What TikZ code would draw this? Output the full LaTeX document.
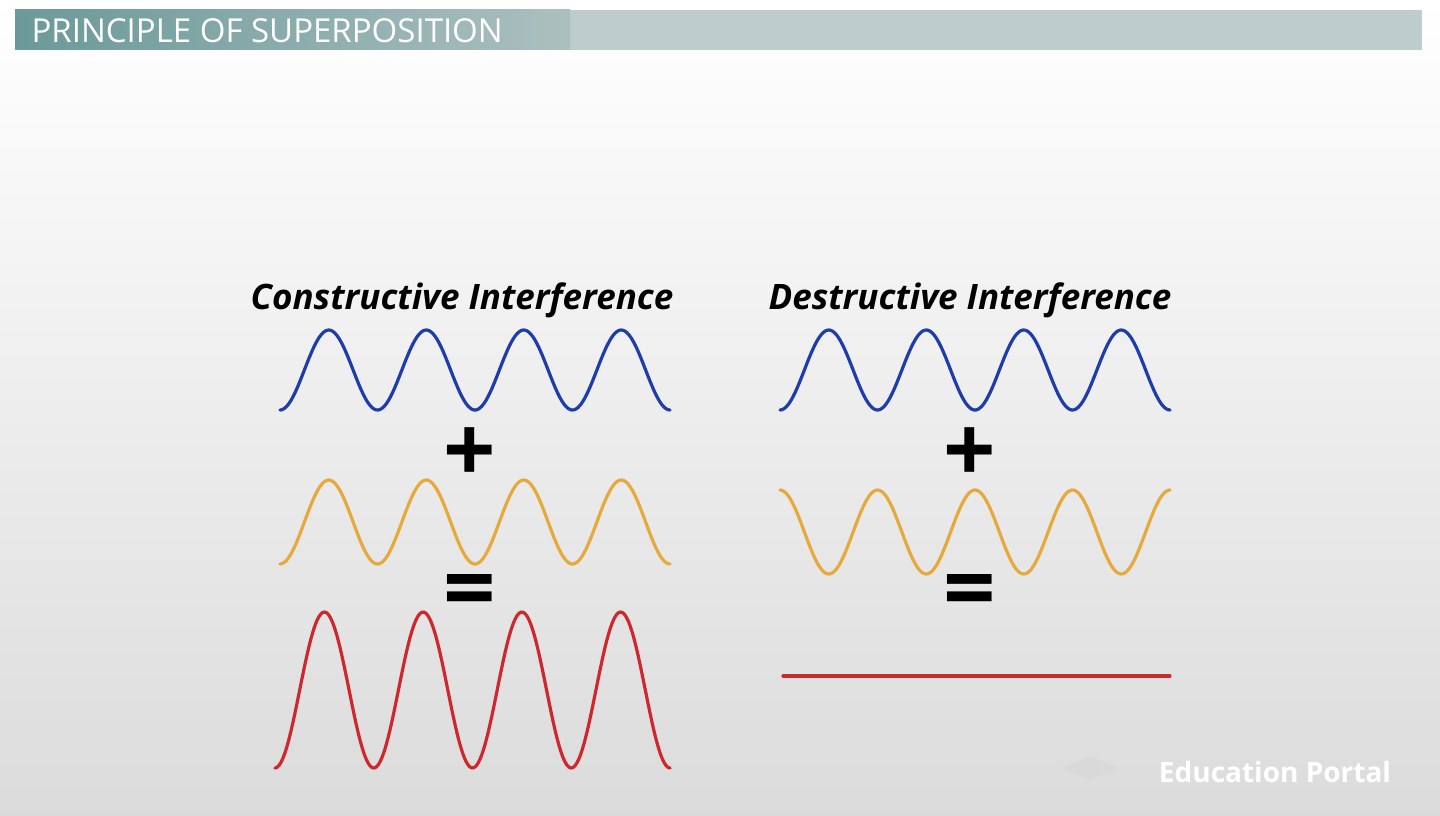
\documentclass[tikz,border=0pt]{standalone}
\usepackage{fontspec}
\setmainfont{Open Sans}
\usetikzlibrary{positioning}
\definecolor{waveblue}{RGB}{30,60,170}
\definecolor{waveorange}{RGB}{230,170,60}
\definecolor{wavered}{RGB}{205,40,45}

\begin{document}
\begin{tikzpicture}
[x=1pt,y=-1pt,
wave/.style={line width=3.2pt,line cap=round},
heading/.style={font=\bfseries\itshape\fontsize{35}{38}\selectfont,inner sep=0pt},
sign/.style={font=\bfseries\fontsize{92}{92}\selectfont,inner sep=0pt}]

% background and title bar
\shade[top color=white,bottom color=black!14] (0,0) rectangle (1440,816);
\fill[teal!30!gray!40] (15,10) rectangle (1422,50);
\shade[left color=teal!45!gray!80,right color=teal!30!gray!50] (15,10) rectangle (570,50);
\node[anchor=west,text=white,font=\fontsize{33}{35}\selectfont] (title) at (28,31) {PRINCIPLE OF SUPERPOSITION};

% constructive
\node[heading] (cons) at (462,300) {Constructive Interference};
\draw[wave,waveblue] plot[domain=0:390,samples=200] ({280+\x},{370+40*cos(\x/97.5*360)});
\node[sign] (plusA) at (470,455) {+};
\draw[wave,waveorange] plot[domain=0:390,samples=200] ({280+\x},{522+42*cos(\x/97.5*360)});
\node[sign] (eqA) at (470,597) {=};
\draw[wave,wavered] plot[domain=0:395,samples=200] ({275+\x},{690+78*cos(\x/98.75*360)});

% destructive
\node[heading] (dest) at (970,300) {Destructive Interference};
\draw[wave,waveblue] plot[domain=0:390,samples=200] ({780+\x},{370+40*cos(\x/97.5*360)});
\node[sign] (plusB) at (970,455) {+};
\draw[wave,waveorange] plot[domain=0:390,samples=200] ({780+\x},{532-42*cos(\x/97.5*360)});
\node[sign] (eqB) at (970,597) {=};
\draw[wave,wavered] (783,676) -- (1170,676);

% watermark
\node[text=white,font=\bfseries\fontsize{28}{30}\selectfont] (logo) at (1275,772) {Education Portal};
\fill[black!15] (1062,768) -- (1090,756) -- (1118,768) -- (1090,780) -- cycle;
\end{tikzpicture}
\end{document}
